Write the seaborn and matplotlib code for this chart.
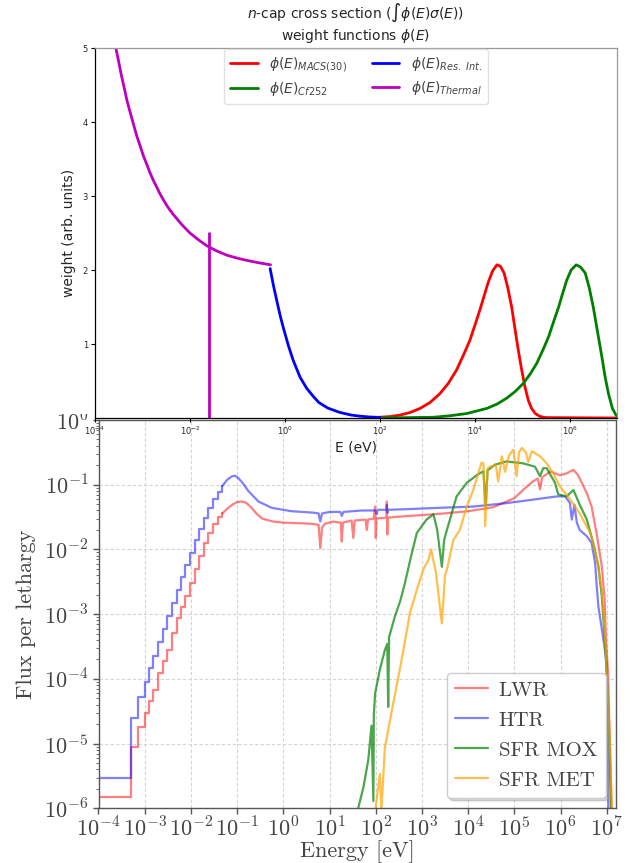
import numpy as np
import matplotlib
matplotlib.use("Agg")
import matplotlib.pyplot as plt
from matplotlib.patches import Rectangle
from matplotlib.ticker import LogLocator, NullLocator, NullFormatter
import seaborn as sns

sns.set_theme(style="ticks")
plt.rcParams["font.family"] = ["DejaVu Sans"]

# ---------------- top panel: weight functions (E in eV, weight in arb. units)
THERMAL_E = [2.75e-4, 3.1e-4, 3.6e-4, 4.1e-4, 4.68e-4, 5.4e-4, 6.46e-4, 7.6e-4, 8.9e-4, 1.05e-3,
             1.23e-3, 1.45e-3, 1.7e-3, 2.0e-3, 2.34e-3, 2.75e-3, 3.2e-3, 3.8e-3, 4.47e-3, 6.6e-3,
             1.0e-2, 1.5e-2, 2.24e-2, 3.6e-2, 6.0e-2, 0.1, 0.158, 0.27, 0.5]
THERMAL_W = [5.0, 4.84, 4.63, 4.47, 4.30, 4.15, 3.97, 3.81, 3.68, 3.54,
             3.43, 3.31, 3.21, 3.12, 3.03, 2.95, 2.88, 2.81, 2.75, 2.62,
             2.50, 2.41, 2.33, 2.26, 2.20, 2.16, 2.13, 2.10, 2.07]
THERMAL_E0 = 0.0253
THERMAL_E0_TOP = 2.52

RESINT_E = [0.49, 0.58, 0.68, 0.8, 0.93, 1.2, 1.5, 2.1, 2.9, 4.0, 5.2, 8, 14.5, 25, 38, 60, 100]
RESINT_W = [2.02, 1.78, 1.58, 1.38, 1.22, 0.97, 0.78, 0.55, 0.40, 0.29, 0.21, 0.135, 0.075,
            0.04, 0.025, 0.014, 0.008]

MACS_E = [100, 170, 270, 440, 710, 1150, 1860, 2800, 4170, 5800, 7940, 1.02e4, 1.29e4, 1.6e4,
          1.95e4, 2.4e4, 2.95e4, 3.5e4, 4.17e4, 5.0e4, 6.03e4, 7.1e4, 8.3e4, 9.8e4, 1.15e5,
          1.35e5, 1.58e5, 1.9e5, 2.4e5, 3.2e5, 1e7]
MACS_W = [0.01, 0.02, 0.04, 0.075, 0.13, 0.21, 0.33, 0.47, 0.65, 0.85, 1.05, 1.26, 1.46, 1.66,
          1.84, 1.99, 2.07, 2.05, 1.96, 1.76, 1.50, 1.20, 0.92, 0.65, 0.42,
          0.24, 0.13, 0.06, 0.02, 0.005, 0.0]

CF252_E = [100, 1350, 3000, 6760, 1.82e4, 3.0e4, 4.79e4, 7.2e4, 1.07e5, 1.5e5, 2.04e5, 2.75e5,
           3.63e5, 4.6e5, 5.89e5, 7.2e5, 8.7e5, 1.08e6, 1.38e6, 1.7e6, 2.14e6, 2.6e6, 3.16e6,
           3.9e6, 4.79e6, 5.6e6, 6.6e6, 8.0e6, 9.5e6, 1e7]
CF252_W = [0.0, 0.01, 0.03, 0.06, 0.13, 0.19, 0.27, 0.36, 0.47, 0.60, 0.74, 0.92,
           1.10, 1.30, 1.50, 1.69, 1.86, 2.0, 2.07, 2.04, 1.96, 1.76, 1.50,
           1.16, 0.83, 0.56, 0.33, 0.13, 0.04, 0.03]

TOP_XTICKS = [1e-4, 1e-2, 1e0, 1e2, 1e4, 1e6]
TOP_YTICKS = [1, 2, 3, 4, 5]

# ---------------- bottom panel: flux per lethargy spectra
STEP_E = [1e-4, 5.0e-4, 7.3e-4, 1.0e-3, 1.25e-3, 1.55e-3, 1.95e-3, 2.5e-3, 3.1e-3, 3.9e-3,
          4.9e-3, 6.1e-3, 7.6e-3, 9.5e-3, 1.2e-2, 1.5e-2, 1.9e-2, 2.4e-2, 3.0e-2, 3.8e-2, 4.8e-2]
HTR_STEP_F = [2.9e-6, 2.5e-5, 5.2e-5, 8.9e-5, 1.45e-4, 2.3e-4, 3.7e-4, 6.0e-4, 9.5e-4, 1.5e-3,
              2.4e-3, 3.7e-3, 5.8e-3, 8.9e-3, 1.4e-2, 2.1e-2, 3.1e-2, 4.4e-2, 6.0e-2, 7.8e-2, 9.6e-2]
LWR_STEP_F = [1.5e-6, 8.9e-6, 1.8e-5, 2.95e-5, 4.5e-5, 6.8e-5, 1.23e-4, 1.86e-4, 2.8e-4, 5.1e-4,
              8.7e-4, 1.3e-3, 1.9e-3, 3.0e-3, 5.0e-3, 7.9e-3, 1.26e-2, 1.8e-2, 2.5e-2, 3.2e-2, 3.6e-2]

LWR_E = [4.8e-2, 0.062, 0.078, 0.1, 0.125, 0.155, 0.2, 0.26, 0.35, 0.6, 1.0, 2.0, 4.0, 5.8, 6.3,
         6.9, 8, 12, 17.5, 18.4, 19.5, 30, 32.7, 35, 60, 64, 68, 90, 97, 100, 104, 170, 174, 178,
         182, 300, 1e3, 3e3, 1e4, 3.5e4, 1e5, 1.6e5, 2.5e5, 3.2e5, 3.6e5, 4.0e5, 6e5, 9.8e5,
         1.35e6, 1.9e6, 2.4e6, 3.7e6, 4.7e6, 6.0e6, 7.8e6, 9.0e6, 9.6e6, 1.07e7, 1.3e7]
LWR_F = [0.036, 0.043, 0.049, 0.054, 0.055, 0.053, 0.045, 0.036, 0.030, 0.027, 0.026, 0.0255,
         0.025, 0.024, 0.0105, 0.022, 0.025, 0.027, 0.026, 0.0133, 0.026, 0.028, 0.015, 0.028,
         0.029, 0.020, 0.029, 0.030, 0.046, 0.015, 0.030, 0.031, 0.055, 0.017, 0.031, 0.032,
         0.034, 0.036, 0.039, 0.045, 0.062, 0.085, 0.112, 0.125, 0.085, 0.13, 0.16, 0.14, 0.15,
         0.17, 0.14, 0.074, 0.046, 0.018, 0.0055, 1.7e-3, 4e-4, 1.2e-4, 5e-7]

HTR_E = [4.8e-2, 0.06, 0.076, 0.09, 0.106, 0.13, 0.175, 0.29, 0.56, 1.5, 4.5, 5.8, 6.3, 6.9,
         10, 17, 18.5, 20, 50, 100, 105, 110, 170, 174, 180, 185, 500, 2.4e3, 1.3e4, 6.8e4,
         2.6e5, 8.3e5, 1.26e6, 1.6e6, 1.75e6, 2.0e6, 2.25e6, 2.6e6, 3.7e6, 4.7e6, 5.6e6, 6.0e6,
         6.6e6, 8.5e6, 1.0e7, 1.07e7, 1.09e7]
HTR_F = [0.096, 0.118, 0.134, 0.138, 0.127, 0.108, 0.080, 0.055, 0.044, 0.039, 0.037, 0.036,
         0.027, 0.036, 0.038, 0.038, 0.033, 0.038, 0.040, 0.040, 0.035, 0.041, 0.041, 0.049,
         0.037, 0.041, 0.042, 0.044, 0.046, 0.052, 0.059, 0.066, 0.066, 0.052, 0.029, 0.049,
         0.026, 0.020, 0.016, 0.0126, 6.2e-3, 3.0e-3, 1.3e-3, 4.0e-4, 1.7e-4, 3.5e-6, 5e-7]

MOX_E = [40, 54, 69, 81, 89, 91, 97, 123, 158, 178, 186, 195, 204, 263, 339, 427, 575, 776,
         1260, 1780, 2140, 2700, 3020, 3470, 5620, 9330, 1.55e4, 2.14e4, 2.4e4, 2.63e4, 3.8e4,
         6.8e4, 1.55e5, 2.8e5, 3.6e5, 4.2e5, 5e5, 7.6e5, 8.9e5, 1.35e6, 1.9e6, 2.6e6, 3.7e6,
         5.1e6, 6.6e6, 7.8e6, 9.1e6, 1.05e7, 1.15e7, 1.26e7]
MOX_F = [8.9e-7, 2.1e-6, 5.6e-6, 1.9e-5, 1.3e-6, 2.8e-5, 6.0e-5, 1.4e-4, 2.8e-4, 3.5e-4,
         3.7e-5, 4.5e-4, 5.0e-4, 9.5e-4, 1.6e-3, 3.0e-3, 7.6e-3, 1.8e-2, 2.9e-2, 3.5e-2,
         2.0e-2, 5.4e-3, 1.4e-2, 2.0e-2, 6.6e-2, 0.107, 0.141, 0.162, 0.047, 0.166, 0.204,
         0.229, 0.214, 0.19, 0.135, 0.18, 0.18, 0.107, 0.071, 0.066, 0.083, 0.049, 0.029,
         0.0126, 5.5e-3, 1.9e-3, 4e-4, 6e-5, 1e-5, 5e-7]

MET_E = [97, 123, 132, 158, 224, 309, 398, 550, 776, 1070, 1380, 1580, 2000, 2700, 3160, 3470,
         4790, 6610, 9330, 1.29e4, 1.78e4, 1.95e4, 2.14e4, 2.34e4, 2.63e4, 2.95e4, 3.98e4,
         4.47e4, 5.37e4, 6.3e4, 7.6e4, 9.5e4, 1.12e5, 1.26e5, 1.45e5, 1.78e5, 2.0e5, 2.4e5,
         3.6e5, 5.0e5, 6.9e5, 9.8e5, 1.62e6, 2.6e6, 4.4e6, 6.0e6, 7.8e6, 9.1e6, 1.07e7, 1.2e7,
         1.32e7]
MET_F = [8.9e-7, 3.4e-6, 8.9e-7, 8.7e-6, 3.3e-5, 1.07e-4, 2.8e-4, 1.05e-3, 2.4e-3, 4.9e-3,
         6.9e-3, 1.0e-2, 4.5e-3, 7.2e-4, 4.0e-3, 4.9e-3, 1.4e-2, 2.0e-2, 4.6e-2, 8.3e-2, 0.178,
         0.219, 0.214, 0.023, 0.178, 0.19, 0.20, 0.112, 0.275, 0.158, 0.28, 0.347, 0.135, 0.316,
         0.37, 0.316, 0.224, 0.33, 0.275, 0.214, 0.151, 0.093, 0.059, 0.036, 0.0178, 7.8e-3,
         2.4e-3, 5e-4, 5e-5, 6.3e-6, 5e-7]

BOT_XTICKS = [1e-4, 1e-3, 1e-2, 1e-1, 1e0, 1e1, 1e2, 1e3, 1e4, 1e5, 1e6, 1e7]
BOT_YTICKS = [1e-6, 1e-5, 1e-4, 1e-3, 1e-2, 1e-1, 1e0]

MAGENTA = "#bf00bf"


def decade_labels(ticks):
    return [f"$10^{{{int(round(np.log10(t)))}}}$" for t in ticks]


W, H = 630, 863
fig = plt.figure(figsize=(W / 100, H / 100), dpi=100)
fig.patch.set_facecolor("white")

ax_bot = fig.add_axes([98.5 / W, 1 - 808.4 / H, (616 - 98.5) / W, (808.4 - 420) / H])
ax_top = fig.add_axes([95 / W, 1 - 418 / H, 522 / W, 370 / H])
ax_bot.set_zorder(0)
ax_top.set_zorder(2)

# white strip: the top figure sits over the upper part of the spectrum plot
fig.add_artist(Rectangle((0, 1 - 414 / H), 1, 414 / H, transform=fig.transFigure,
                         facecolor="white", edgecolor="none", zorder=1))

# ---------------- bottom panel
ax_bot.set_xscale("log")
ax_bot.set_yscale("log")
serif = "cmr10"
line_kw = dict(ax=ax_bot, estimator=None, sort=False, linewidth=1.6)

sns.lineplot(x=STEP_E, y=LWR_STEP_F, color="red", alpha=0.5, drawstyle="steps-post", **line_kw)
sns.lineplot(x=LWR_E, y=LWR_F, color="red", alpha=0.5, label="LWR", **line_kw)
sns.lineplot(x=STEP_E, y=HTR_STEP_F, color="blue", alpha=0.5, drawstyle="steps-post", **line_kw)
sns.lineplot(x=HTR_E, y=HTR_F, color="blue", alpha=0.5, label="HTR", **line_kw)
sns.lineplot(x=MOX_E, y=MOX_F, color="green", alpha=0.7, label="SFR MOX", **line_kw)
sns.lineplot(x=MET_E, y=MET_F, color="orange", alpha=0.7, label="SFR MET", **line_kw)

ax_bot.set_xlim(1e-4, 10 ** 7.2)
ax_bot.set_ylim(1e-6, 1e0)
ax_bot.set_xticks(BOT_XTICKS, decade_labels(BOT_XTICKS), fontsize=16,
                  math_fontfamily="cm", color="#444444")
ax_bot.set_yticks(BOT_YTICKS, decade_labels(BOT_YTICKS), fontsize=16,
                  math_fontfamily="cm", color="#444444")
ax_bot.xaxis.set_minor_locator(NullLocator())
ax_bot.yaxis.set_minor_locator(LogLocator(base=10, subs=np.arange(2, 10), numticks=20))
ax_bot.yaxis.set_minor_formatter(NullFormatter())
ax_bot.tick_params(axis="x", which="major", length=4, width=1, color="#555555", pad=1.5)
ax_bot.tick_params(axis="y", which="major", length=4, width=1, color="#555555", pad=3)
ax_bot.tick_params(which="minor", length=2, width=0.6, color="#555555")
ax_bot.grid(True, which="major", color="#d4d4d4", linestyle=(0, (3, 2)), linewidth=0.8)
for sp in ax_bot.spines.values():
    sp.set_color("#555555")
    sp.set_linewidth(1.0)
ax_bot.set_xlabel("Energy [eV]", fontsize=16, family=serif, color="#444444", labelpad=0)
ax_bot.set_ylabel("Flux per lethargy", fontsize=16, family=serif, color="#444444", labelpad=6)

handles, labels = ax_bot.get_legend_handles_labels()
leg = ax_bot.legend(handles, labels, loc="lower right", prop={"family": serif, "size": 15},
                    labelcolor="#444444", frameon=True, framealpha=1, edgecolor="#cccccc",
                    fancybox=True, handlelength=1.6, handletextpad=0.5, labelspacing=0.55,
                    borderpad=0.4, borderaxespad=0.5, shadow={"color": "0.6", "alpha": 0.4})

# ---------------- top panel
ax_top.set_facecolor("white")
ax_top.set_xscale("log")
top_kw = dict(ax=ax_top, estimator=None, sort=False, linewidth=2)
sns.lineplot(x=MACS_E, y=MACS_W, color="red", label=r"$\phi(E)_{MACS(30)}$", **top_kw)
sns.lineplot(x=CF252_E, y=CF252_W, color="green", label=r"$\phi(E)_{Cf252}$", **top_kw)
sns.lineplot(x=RESINT_E, y=RESINT_W, color="blue", label=r"$\phi(E)_{Res.\ Int.}$", **top_kw)
sns.lineplot(x=THERMAL_E, y=THERMAL_W, color=MAGENTA, label=r"$\phi(E)_{Thermal}$", **top_kw)
ax_top.vlines(THERMAL_E0, 0, THERMAL_E0_TOP, color=MAGENTA, linewidth=2)

ax_top.set_xlim(1e-4, 1e7)
ax_top.set_ylim(0, 5)
ax_top.set_xticks(TOP_XTICKS, decade_labels(TOP_XTICKS), fontsize=6)
ax_top.xaxis.set_minor_locator(NullLocator())
ax_top.set_yticks(TOP_YTICKS)
ax_top.tick_params(labelsize=6, length=3, width=0.8, color="black", pad=2)
for name, sp in ax_top.spines.items():
    sp.set_color("black" if name in ("left", "bottom") else "#999999")
    sp.set_linewidth(0.9)
ax_top.set_xlabel("E (eV)", fontsize=10, labelpad=2)
ax_top.set_ylabel("weight (arb. units)", fontsize=10, labelpad=5)
ax_top.set_title("$n$-cap cross section ($\\int\\phi(E)\\sigma(E)$)\nweight functions $\\phi(E)$",
                 fontsize=10, pad=6)

handles, labels = ax_top.get_legend_handles_labels()
ax_top.legend(handles, labels, loc="upper center", ncol=2, fontsize=10, labelcolor="#444444",
              frameon=True, framealpha=0.9, edgecolor="#dddddd", handlelength=2.0,
              columnspacing=1.8, borderaxespad=0.1, labelspacing=0.45)

fig.savefig("out.png", dpi=100)
